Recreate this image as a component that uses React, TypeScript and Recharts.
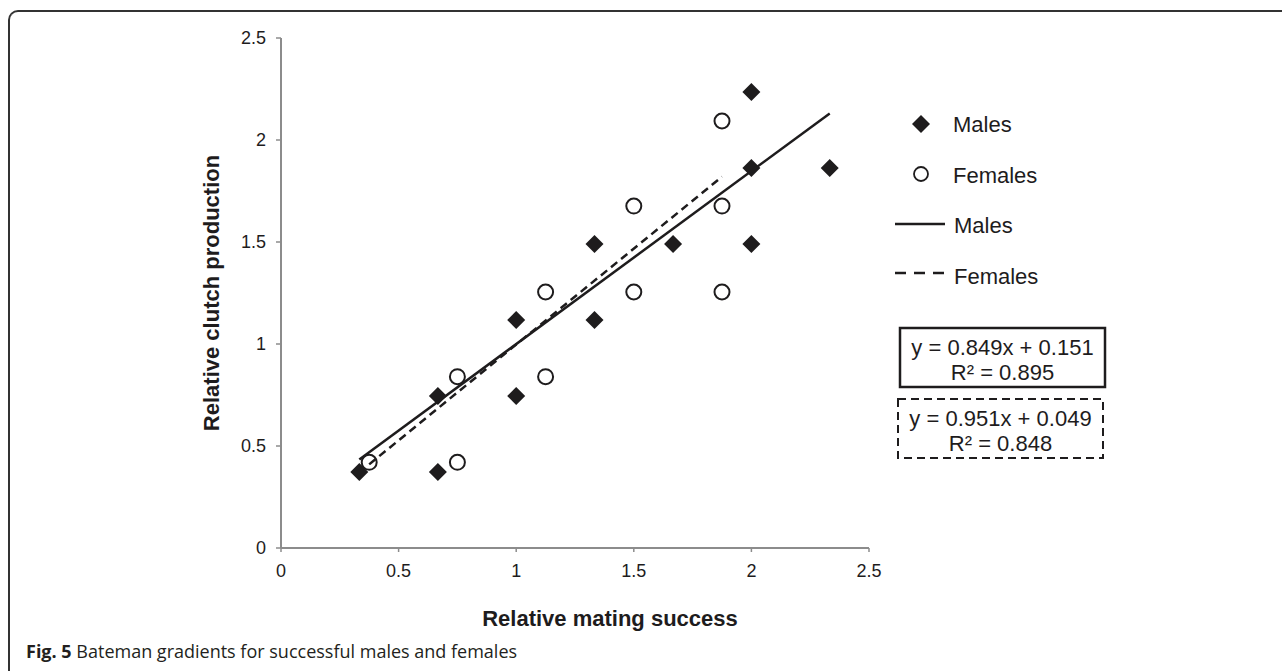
import React from 'react';
import { ScatterChart, Scatter, XAxis, YAxis, Label, Legend } from 'recharts';

// values
const maleMating = [0.333, 0.667, 0.667, 1, 1, 1.333, 1.333, 1.667, 2, 2, 2, 2.333];
const maleClutch = [0.373, 0.373, 0.745, 0.745, 1.118, 1.118, 1.49, 1.49, 1.49, 1.863, 2.235, 1.863];
const femaleMating = [0.375, 0.75, 0.75, 1.125, 1.125, 1.5, 1.5, 1.875, 1.875, 1.875];
const femaleClutch = [0.42, 0.42, 0.84, 0.84, 1.255, 1.255, 1.676, 1.676, 1.255, 2.093];

// trend line end points
const maleTrendX = [0.333, 2.333];
const maleTrendY = [0.434, 2.13];
const femaleTrendX = [0.375, 1.875];
const femaleTrendY = [0.41, 1.82];

const ticks = [0, 0.5, 1, 1.5, 2, 2.5];
const maleEq = ['y = 0.849x + 0.151', 'R² = 0.895'];
const femaleEq = ['y = 0.951x + 0.049', 'R² = 0.848'];

const toPoints = (xs: number[], ys: number[]) => xs.map((x, i) => ({ x, y: ys[i] }));

const INK = '#1e1c1d';
const AXIS = '#8c8c8c';
const FONT = '"Liberation Sans", Arial, sans-serif';

const Diamond = ({ cx, cy }: any) => (
  <polygon points={`${cx},${cy - 9} ${cx + 9},${cy} ${cx},${cy + 9} ${cx - 9},${cy}`} fill={INK} />
);

const Ring = ({ cx, cy }: any) => (
  <circle cx={cx} cy={cy} r={7.5} fill="#fff" stroke={INK} strokeWidth={2} />
);

const Blank = () => <g />;

const LegendBox = () => {
  const txt = { fontFamily: FONT, fontSize: 22, fill: INK };
  return (
    <svg width={240} height={370} style={{ display: 'block' }}>
      <polygon points="41,15 50,24 41,33 32,24" fill={INK} />
      <text x={73} y={24} dominantBaseline="central" {...txt}>Males</text>
      <circle cx={41} cy={74} r={7} fill="#fff" stroke={INK} strokeWidth={1.8} />
      <text x={73} y={75} dominantBaseline="central" {...txt}>Females</text>
      <line x1={15} x2={65} y1={124} y2={124} stroke={INK} strokeWidth={2.5} />
      <text x={74} y={125} dominantBaseline="central" {...txt}>Males</text>
      <line x1={15} x2={65} y1={173} y2={173} stroke={INK} strokeWidth={2.5} strokeDasharray="11 8" />
      <text x={74} y={176} dominantBaseline="central" {...txt}>Females</text>

      <rect x={20} y={228} width={205} height={59} fill="none" stroke={INK} strokeWidth={2.5} />
      <text x={122.5} y={247} textAnchor="middle" dominantBaseline="central" {...txt}>{maleEq[0]}</text>
      <text x={122.5} y={272} textAnchor="middle" dominantBaseline="central" {...txt}>{maleEq[1]}</text>

      <rect x={18} y={299} width={205} height={59} fill="none" stroke={INK} strokeWidth={2} strokeDasharray="8 5" />
      <text x={120.5} y={318} textAnchor="middle" dominantBaseline="central" {...txt}>{femaleEq[0]}</text>
      <text x={120.5} y={343} textAnchor="middle" dominantBaseline="central" {...txt}>{femaleEq[1]}</text>
    </svg>
  );
};

export default function App() {
  const tickStyle = { fill: INK, fontSize: 18, fontFamily: FONT };
  return (
    <div style={{ position: 'absolute', left: 0, top: 0, width: 1282, height: 671, background: '#fff', overflow: 'hidden' }}>
      <div
        style={{
          position: 'absolute', left: 8, top: 10, width: 1300, height: 700,
          borderLeft: '2px solid #333', borderTop: '2px solid #333', borderTopLeftRadius: 10,
        }}
      />
      <div style={{ position: 'absolute', left: 0, top: 0 }}>
        <ScatterChart width={1282} height={671} margin={{ top: 38, right: 413, bottom: 53, left: 141 }}>
          <XAxis
            type="number"
            dataKey="x"
            domain={[0, 2.5]}
            ticks={ticks}
            height={70}
            tick={tickStyle}
            tickSize={4}
            tickMargin={12}
            axisLine={{ stroke: AXIS, strokeWidth: 2 }}
            tickLine={{ stroke: AXIS, strokeWidth: 1.5 }}
          >
            <Label
              value="Relative mating success"
              position="insideBottom"
              offset={-8}
              dx={35}
              style={{ fontFamily: FONT, fontSize: 22, fontWeight: 'bold', fill: INK }}
            />
          </XAxis>
          <YAxis
            type="number"
            dataKey="y"
            domain={[0, 2.5]}
            ticks={ticks}
            width={140}
            tick={tickStyle}
            tickSize={5}
            tickMargin={10}
            axisLine={{ stroke: AXIS, strokeWidth: 2 }}
            tickLine={{ stroke: AXIS, strokeWidth: 1.5 }}
          >
            <Label
              value="Relative clutch production"
              position="center"
              angle={-90}
              style={{ fontFamily: FONT, fontSize: 22, fontWeight: 'bold', fill: INK, textAnchor: 'middle' }}
            />
          </YAxis>
          <Legend
            layout="vertical"
            align="center"
            verticalAlign="middle"
            content={() => <LegendBox />}
            wrapperStyle={{ position: 'absolute', left: 880, top: 100, width: 240, height: 370 }}
          />
          <Scatter name="Males" data={toPoints(maleMating, maleClutch)} shape={Diamond} isAnimationActive={false} />
          <Scatter name="Females" data={toPoints(femaleMating, femaleClutch)} shape={Ring} isAnimationActive={false} />
          <Scatter
            name="Males trend"
            data={toPoints(maleTrendX, maleTrendY)}
            shape={Blank}
            line={{ stroke: INK, strokeWidth: 2.5 }}
            isAnimationActive={false}
          />
          <Scatter
            name="Females trend"
            data={toPoints(femaleTrendX, femaleTrendY)}
            shape={Blank}
            line={{ stroke: INK, strokeWidth: 2.5, strokeDasharray: '8 5' }}
            isAnimationActive={false}
          />
        </ScatterChart>
      </div>
      <div
        style={{
          position: 'absolute', left: 26, top: 641, fontFamily: '"Open Sans", sans-serif',
          fontSize: 18, lineHeight: '20px', color: '#231f20', whiteSpace: 'nowrap',
        }}
      >
        <b>Fig. 5</b> Bateman gradients for successful males and females
      </div>
    </div>
  );
}
